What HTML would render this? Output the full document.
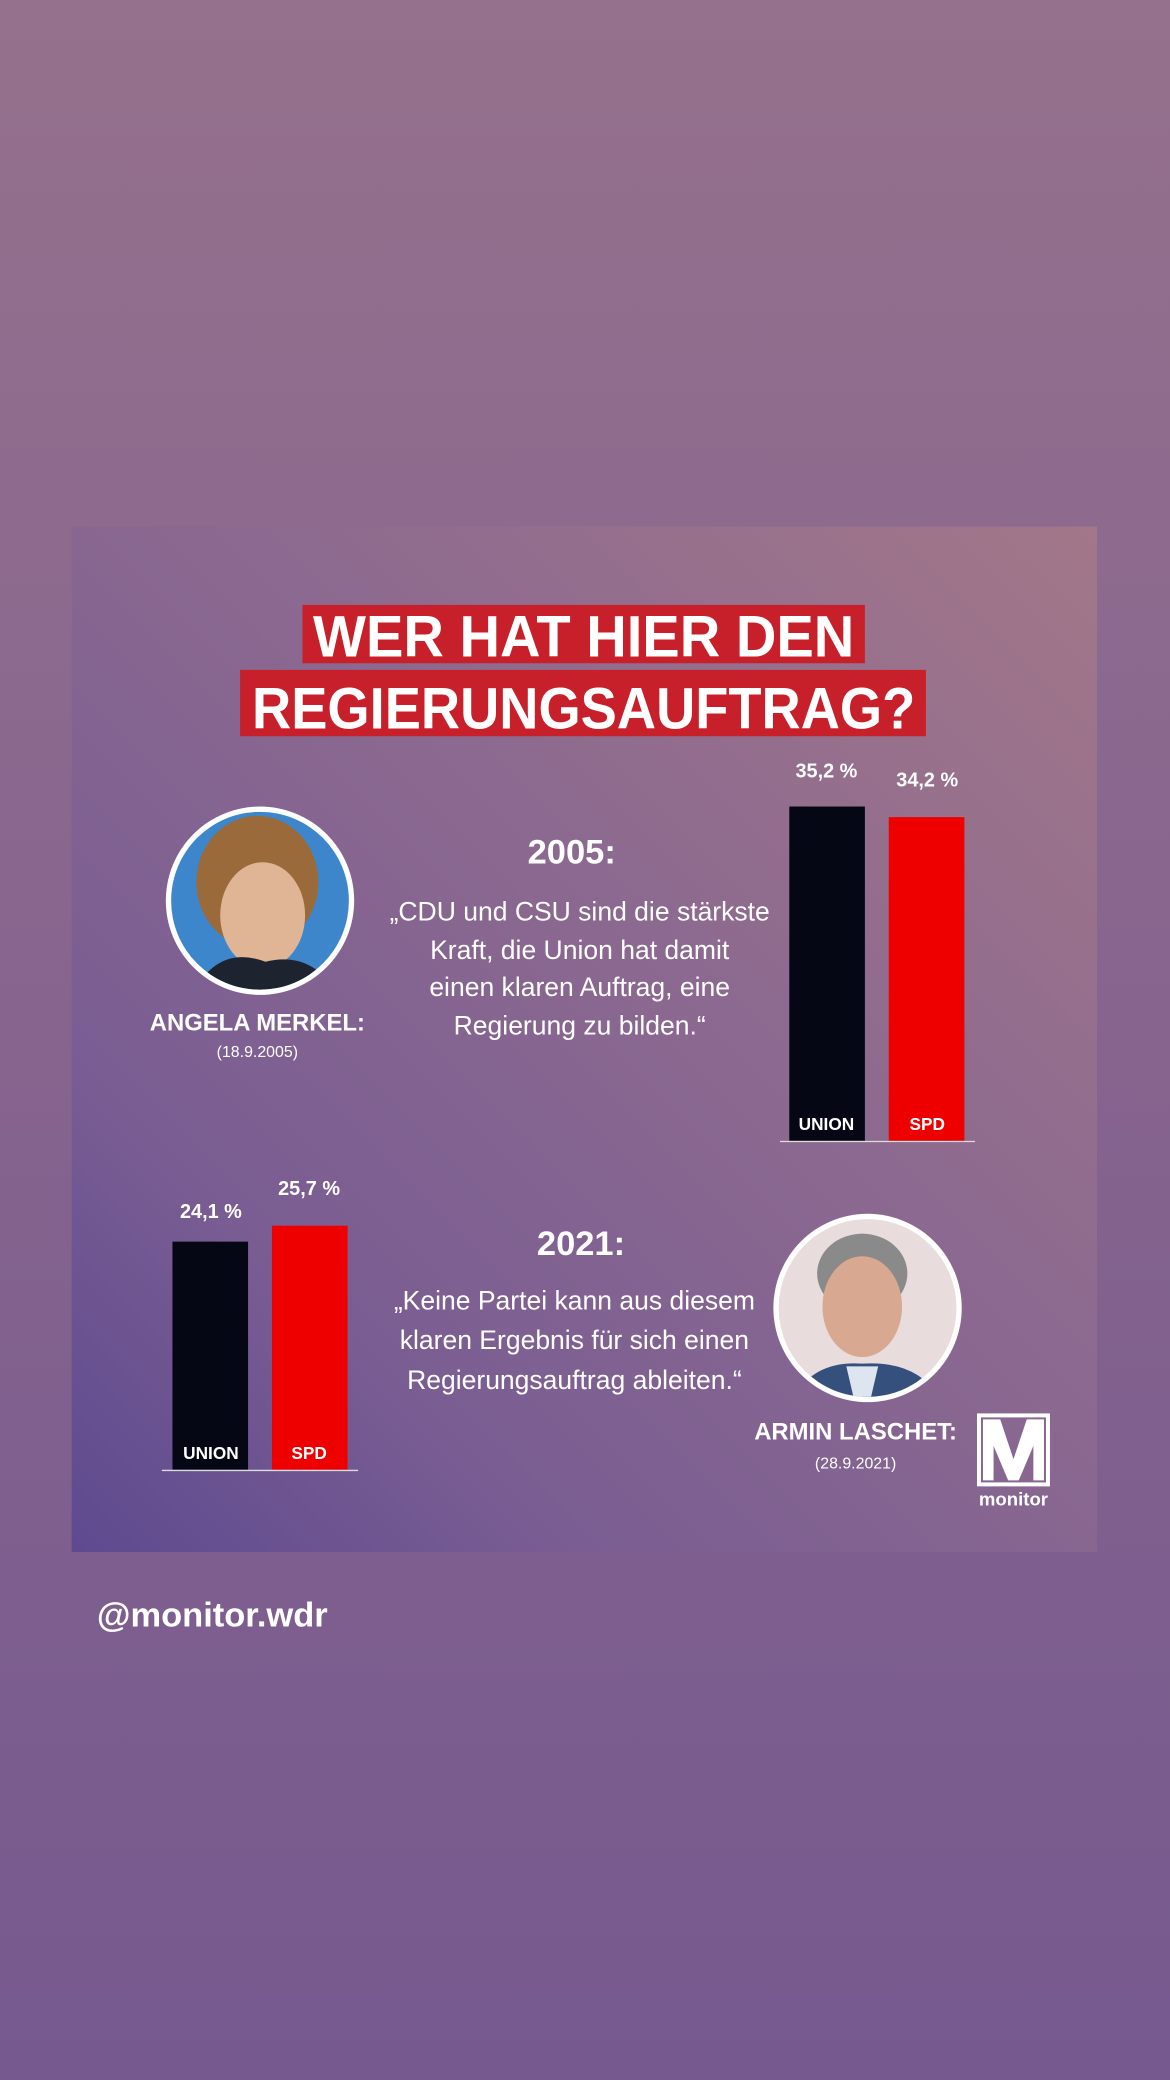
<!DOCTYPE html>
<html><head><meta charset="utf-8"><style>
html,body{margin:0;padding:0;width:1170px;height:2080px;overflow:hidden}
svg{display:block}
text{font-family:"Liberation Sans Narrow","Liberation Sans",sans-serif}
</style></head><body>
<svg width="1170" height="2080" viewBox="0 0 882 1568" xmlns="http://www.w3.org/2000/svg">
<defs>
<linearGradient id="bg" x1="0" y1="0" x2="0" y2="1">
<stop offset="0" stop-color="#95718d"/><stop offset="0.5" stop-color="#86648e"/><stop offset="1" stop-color="#76598f"/>
</linearGradient>
<linearGradient id="card" x1="1" y1="0" x2="0" y2="1">
<stop offset="0" stop-color="#a27789"/><stop offset="0.45" stop-color="#8a6890"/><stop offset="0.75" stop-color="#7a5d92"/><stop offset="1" stop-color="#5e4a90"/>
</linearGradient>
<clipPath id="c1"><circle cx="196" cy="679" r="67"/></clipPath>
<clipPath id="c2"><circle cx="654" cy="986" r="67"/></clipPath>
</defs>
<rect width="882" height="1568" fill="url(#bg)"/>
<rect x="54" y="397" width="773" height="773" fill="url(#card)"/>
<!-- title -->
<rect x="228" y="456" width="424" height="44" fill="#c8202a"/>
<rect x="181" y="505" width="517" height="50" fill="#c8202a"/>
<text x="440" y="495" text-anchor="middle" font-size="44" font-weight="bold" fill="#fff" textLength="408" lengthAdjust="spacingAndGlyphs">WER HAT HIER DEN</text>
<text x="440" y="549" text-anchor="middle" font-size="44" font-weight="bold" fill="#fff" textLength="500" lengthAdjust="spacingAndGlyphs">REGIERUNGSAUFTRAG?</text>
<!-- 2005 bars -->
<text x="623" y="586" text-anchor="middle" font-size="15" font-weight="bold" fill="#fff">35,2 %</text>
<text x="699" y="593" text-anchor="middle" font-size="15" font-weight="bold" fill="#fff">34,2 %</text>
<rect x="595" y="608" width="57" height="252" fill="#050814"/>
<rect x="670" y="616" width="57" height="244" fill="#ee0000"/>
<line x1="588" y1="860.5" x2="735" y2="860.5" stroke="#ddd" stroke-width="1"/>
<text x="623" y="852" text-anchor="middle" font-size="13" font-weight="bold" fill="#fff">UNION</text>
<text x="699" y="852" text-anchor="middle" font-size="13" font-weight="bold" fill="#fff">SPD</text>
<!-- Merkel -->
<circle cx="196" cy="679" r="71" fill="#fff"/>
<g clip-path="url(#c1)">
<rect x="120" y="600" width="160" height="160" fill="#3d86cc"/>
<ellipse cx="194" cy="665" rx="46" ry="50" fill="#9b6a3a"/>
<ellipse cx="198" cy="690" rx="32" ry="40" fill="#e0b596"/>
<path d="M140 760 Q160 710 200 725 Q240 715 260 760 Z" fill="#1e2330"/>
</g>
<text x="194" y="777" text-anchor="middle" font-size="18" font-weight="bold" fill="#fff">ANGELA MERKEL:</text>
<text x="194" y="797" text-anchor="middle" font-size="12" fill="#fff">(18.9.2005)</text>
<text x="431" y="651" text-anchor="middle" font-size="26" font-weight="bold" fill="#fff">2005:</text>
<g font-size="20" fill="#fff" text-anchor="middle">
<text x="437" y="694">„CDU und CSU sind die stärkste</text>
<text x="437" y="723">Kraft, die Union hat damit</text>
<text x="437" y="751">einen klaren Auftrag, eine</text>
<text x="437" y="780">Regierung zu bilden.“</text>
</g>
<!-- 2021 bars -->
<text x="159" y="918" text-anchor="middle" font-size="15" font-weight="bold" fill="#fff">24,1 %</text>
<text x="233" y="901" text-anchor="middle" font-size="15" font-weight="bold" fill="#fff">25,7 %</text>
<rect x="130" y="936" width="57" height="172" fill="#050814"/>
<rect x="205" y="924" width="57" height="184" fill="#ee0000"/>
<line x1="122" y1="1108.5" x2="270" y2="1108.5" stroke="#ddd" stroke-width="1"/>
<text x="159" y="1100" text-anchor="middle" font-size="13" font-weight="bold" fill="#fff">UNION</text>
<text x="233" y="1100" text-anchor="middle" font-size="13" font-weight="bold" fill="#fff">SPD</text>
<text x="438" y="946" text-anchor="middle" font-size="26" font-weight="bold" fill="#fff">2021:</text>
<g font-size="20" fill="#fff" text-anchor="middle">
<text x="433" y="987">„Keine Partei kann aus diesem</text>
<text x="433" y="1017">klaren Ergebnis für sich einen</text>
<text x="433" y="1047">Regierungsauftrag ableiten.“</text>
</g>
<!-- Laschet -->
<circle cx="654" cy="986" r="71" fill="#fff"/>
<g clip-path="url(#c2)">
<rect x="580" y="910" width="150" height="150" fill="#e8dcdc"/>
<ellipse cx="650" cy="960" rx="34" ry="30" fill="#8a8a8a"/>
<ellipse cx="650" cy="985" rx="30" ry="38" fill="#d8a990"/>
<path d="M595 1060 Q610 1025 650 1028 Q695 1025 712 1060 Z" fill="#36507e"/>
<path d="M638 1030 L662 1030 L655 1060 L645 1060 Z" fill="#dde6f0"/>
</g>
<text x="645" y="1085" text-anchor="middle" font-size="18" font-weight="bold" fill="#fff">ARMIN LASCHET:</text>
<text x="645" y="1107" text-anchor="middle" font-size="12" fill="#fff">(28.9.2021)</text>
<!-- logo -->
<rect x="738" y="1067" width="52" height="52" fill="none" stroke="#fff" stroke-width="3"/>
<path d="M741 1070 L754 1070 L764 1100 L774 1070 L787 1070 L787 1116 L779 1116 L779 1090 L768 1116 L760 1116 L749 1090 L749 1116 L741 1116 Z" fill="#fff"/>
<text x="764" y="1135" text-anchor="middle" font-size="14" font-weight="bold" fill="#fff">monitor</text>
<text x="73" y="1226" font-size="26" font-weight="bold" fill="#fff" font-family="Liberation Sans, sans-serif">@monitor.wdr</text>
</svg>
</body></html>
